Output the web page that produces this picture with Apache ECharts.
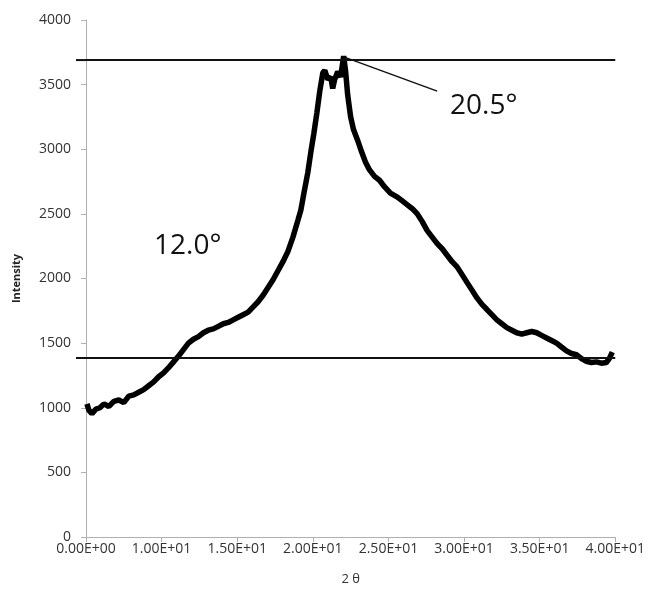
<!DOCTYPE html>
<html>
<head>
<meta charset="utf-8">
<script src="https://cdn.jsdelivr.net/npm/echarts@6/dist/echarts.min.js"></script>
<style>
  html, body { margin: 0; padding: 0; background: #fff; }
  #chart { width: 648px; height: 592px; }
</style>
</head>
<body>
<div id="chart"></div>
<script>
// x positions are in tick units (0 = first tick, 7 = last tick)
var xTickLabels = ['0.00E+00', '1.00E+01', '1.50E+01', '2.00E+01', '2.50E+01', '3.00E+01', '3.50E+01', '4.00E+01'];

var xPos = [
  0.013, 0.039, 0.079, 0.132, 0.184, 0.237, 0.303, 0.368, 0.434, 0.500,
  0.566, 0.632, 0.697, 0.763, 0.829, 0.895, 0.961, 1.026, 1.092, 1.158,
  1.224, 1.289, 1.355, 1.421, 1.487, 1.553, 1.618, 1.684, 1.750, 1.816,
  1.882, 1.947, 2.013, 2.079, 2.145, 2.211, 2.276, 2.342, 2.408, 2.474,
  2.539, 2.605, 2.671, 2.737, 2.803, 2.842, 2.882, 2.934, 2.974, 3.013,
  3.053, 3.092, 3.132, 3.158, 3.197, 3.237, 3.263, 3.289, 3.329, 3.368,
  3.408, 3.434, 3.461, 3.500, 3.539, 3.592, 3.645, 3.697, 3.750, 3.816,
  3.882, 3.947, 4.026, 4.118, 4.184, 4.250, 4.316, 4.382, 4.447, 4.513,
  4.579, 4.645, 4.711, 4.776, 4.842, 4.908, 4.974, 5.039, 5.105, 5.171,
  5.237, 5.303, 5.368, 5.434, 5.500, 5.566, 5.632, 5.697, 5.763, 5.829,
  5.895, 5.961, 6.026, 6.092, 6.158, 6.224, 6.289, 6.355, 6.421, 6.487,
  6.553, 6.618, 6.684, 6.750, 6.816, 6.882, 6.921, 6.961
];

var intensity = [
  1030, 980, 955, 990, 1000, 1030, 1010, 1050, 1060, 1040,
  1090, 1100, 1120, 1140, 1170, 1200, 1240, 1270, 1310, 1355,
  1400, 1450, 1500, 1530, 1550, 1580, 1600, 1610, 1630, 1650,
  1660, 1680, 1700, 1720, 1740, 1780, 1820, 1870, 1930, 1990,
  2060, 2130, 2210, 2320, 2450, 2530, 2660, 2820, 2980, 3120,
  3280, 3450, 3590, 3610, 3540, 3560, 3470, 3540, 3600, 3560,
  3720, 3600, 3420, 3250, 3150, 3070, 2980, 2900, 2840, 2790,
  2760, 2710, 2660, 2630, 2600, 2570, 2540, 2500, 2440, 2370,
  2320, 2270, 2230, 2180, 2130, 2090, 2030, 1970, 1910, 1850,
  1800, 1760, 1720, 1680, 1650, 1620, 1600, 1580, 1570, 1580,
  1590, 1580, 1560, 1540, 1520, 1500, 1470, 1440, 1420, 1410,
  1380, 1360, 1350, 1355, 1345, 1350, 1380, 1430
];

var levels = [3690, 1385];
var peakPoint = [3.408, 3715];
var leaderEnd = [4.645, 3450];

var chart = echarts.init(document.getElementById('chart'));

var lineData = [];
for (var i = 0; i < xPos.length; i++) {
  lineData.push([xPos[i], intensity[i]]);
}

var levelLines = levels.map(function (v) {
  return [{ coord: [0, v], lineStyle: { color: '#111', width: 2, type: 'solid' } }, { coord: [7, v] }];
});
levelLines.push([{ coord: peakPoint, lineStyle: { color: '#111', width: 1.5, type: 'solid' } }, { coord: leaderEnd }]);

var option = {
  animation: false,
  backgroundColor: '#fff',
  grid: { left: 86, right: 28, top: 20, bottom: 55 },
  xAxis: {
    type: 'value',
    min: 0,
    max: 7,
    interval: 1,
    name: '2 θ',
    nameLocation: 'middle',
    nameGap: 36,
    nameTextStyle: { color: '#333', fontSize: 13, fontFamily: 'Open Sans' },
    axisLine: { show: true, lineStyle: { color: '#b0b0b0', width: 1 } },
    axisTick: { show: true, length: 5, lineStyle: { color: '#b0b0b0' } },
    axisLabel: {
      color: '#333', fontSize: 14, fontFamily: 'Open Sans', margin: 5,
      formatter: function (v) { return xTickLabels[Math.round(v)]; }
    },
    splitLine: { show: false }
  },
  yAxis: {
    type: 'value',
    min: 0,
    max: 4000,
    interval: 500,
    name: 'Intensity',
    nameLocation: 'middle',
    nameGap: 64,
    nameTextStyle: { color: '#222', fontSize: 11, fontWeight: 'bold', fontFamily: 'Open Sans' },
    axisLine: { show: true, lineStyle: { color: '#b0b0b0', width: 1 } },
    axisTick: { show: true, length: 5, lineStyle: { color: '#b0b0b0' } },
    axisLabel: {
      color: '#333', fontSize: 14, fontFamily: 'Open Sans', margin: 15,
      formatter: function (v) { return String(v); }
    },
    splitLine: { show: false }
  },
  series: [{
    type: 'line',
    data: lineData,
    showSymbol: false,
    smooth: false,
    lineStyle: { color: '#000', width: 5.5 },
    markLine: {
      silent: true,
      symbol: 'none',
      label: { show: false },
      data: levelLines
    }
  }],
  graphic: [
    { type: 'text', left: 450, top: 92, style: { text: '20.5°', fontSize: 28, fontFamily: 'Open Sans', fill: '#111' } },
    { type: 'text', left: 154, top: 232, style: { text: '12.0°', fontSize: 28, fontFamily: 'Open Sans', fill: '#111' } }
  ]
};

chart.setOption(option);

// the two level lines start a little left of the y axis
var stubs = levels.map(function (v) {
  var p = chart.convertToPixel({ gridIndex: 0 }, [0, v]);
  return { type: 'line', shape: { x1: p[0] - 10, y1: p[1], x2: p[0], y2: p[1] }, style: { stroke: '#111', lineWidth: 2 } };
});
chart.setOption({ graphic: option.graphic.concat(stubs) });
</script>
</body>
</html>
